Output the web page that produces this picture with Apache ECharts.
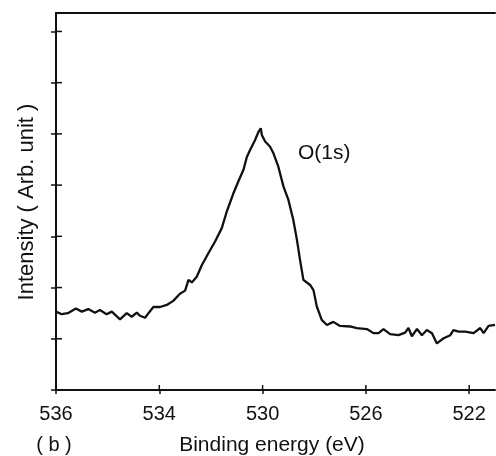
<!DOCTYPE html>
<html>
<head>
<meta charset="utf-8">
<script src="https://cdn.jsdelivr.net/npm/echarts@6/dist/echarts.min.js"></script>
<style>
	html, body { margin: 0; padding: 0; background: #fff; }
	#chart { width: 496px; height: 456px; }
</style>
</head>
<body>
<div id="chart"></div>
<script>
// binding energy (eV)
var energy = [538.00, 537.78, 537.54, 537.23, 537.00, 536.75, 536.49, 536.30, 536.04, 535.84,
	535.52, 535.26, 535.07, 534.87, 534.75, 534.55, 534.42, 534.23, 533.97, 533.71,
	533.46, 533.20, 533.00, 532.87, 532.74, 532.55, 532.35, 532.10, 531.84, 531.58,
	531.39, 531.13, 530.94, 530.74, 530.61, 530.48, 530.29, 530.16, 530.07, 530.03,
	529.90, 529.71, 529.58, 529.51, 529.39, 529.19, 529.00, 528.81, 528.67, 528.55,
	528.42, 528.16, 528.03, 527.90, 527.71, 527.51, 527.26, 527.00, 526.61, 526.35,
	525.96, 525.71, 525.51, 525.32, 525.06, 524.74, 524.48, 524.35, 524.22, 524.02,
	523.83, 523.64, 523.44, 523.25, 522.99, 522.73, 522.61, 522.41, 522.15, 521.83,
	521.57, 521.44, 521.25, 521.00];

// intensity (arb. unit, one tick = 1)
var intensity = [1.53, 1.48, 1.50, 1.59, 1.53, 1.58, 1.51, 1.56, 1.48, 1.53,
	1.38, 1.50, 1.43, 1.51, 1.45, 1.41, 1.50, 1.62, 1.62, 1.66,
	1.74, 1.88, 1.94, 2.15, 2.10, 2.21, 2.44, 2.67, 2.90, 3.16,
	3.48, 3.84, 4.07, 4.30, 4.55, 4.69, 4.88, 5.04, 5.11, 4.98,
	4.85, 4.75, 4.62, 4.65, 4.36, 3.97, 3.71, 3.32, 2.93, 2.54,
	2.15, 2.05, 1.95, 1.63, 1.37, 1.27, 1.33, 1.25, 1.24, 1.21,
	1.19, 1.11, 1.11, 1.19, 1.09, 1.07, 1.12, 1.21, 1.05, 1.19,
	1.07, 1.17, 1.11, 0.91, 1.01, 1.07, 1.17, 1.14, 1.14, 1.11,
	1.21, 1.11, 1.25, 1.27];

// tick positions and the labels printed under them (first one reads 536 in the original)
var xTickValues = [538, 534, 530, 526, 522];
var xTickLabels = ['536', '534', '530', '526', '522'];
var yTickValues = [0, 1, 2, 3, 4, 5, 6, 7];

var X_MIN = 521, X_MAX = 538;
var Y_MIN = 0, Y_MAX = 7.36;

var FONT = "'Liberation Sans', Arial, sans-serif";
var INK = '#111';

function getPoints(xs, ys) {
	var pts = new Array();
	for(var i = 0; i < xs.length; i++) pts[i] = [xs[i], ys[i]];
	return pts;
}

function xLabel(v) {
	for(var i = 0; i < xTickValues.length; i++) {
		if(Math.abs(xTickValues[i] - v) < 0.01) return xTickLabels[i];
	}
	return '';
}

// inner half of the crossing ticks: outer half comes from the axes themselves
function innerTicks(name, data, dx, dy) {
	return {
		name: name,
		type: 'custom',
		silent: true,
		clip: false,
		z: 5,
		data: data,
		renderItem: function(params, api) {
			var p = api.coord([api.value(0), api.value(1)]);
			return {
				type: 'line',
				shape: { x1: p[0], y1: p[1], x2: p[0] + dx, y2: p[1] + dy },
				style: { stroke: INK, lineWidth: 1.5 }
			};
		}
	};
}

function tickPoints(values, fixed, isX) {
	var pts = new Array();
	for(var i = 0; i < values.length; i++) pts[i] = isX ? [values[i], fixed] : [fixed, values[i]];
	return pts;
}

function initChart(el) {
	var mychart = echarts.init(el, null, { renderer: 'canvas' });
	var option = {
		animation: false,
		backgroundColor: '#fff',
		grid: { left: 56, right: 1, top: 13, bottom: 66 },
		xAxis: [{
			type: 'value',
			min: X_MIN,
			max: X_MAX,
			inverse: true,
			position: 'bottom',
			splitLine: { show: false },
			axisLine: { onZero: false, lineStyle: { color: INK, width: 2 } },
			axisTick: { show: true, inside: false, length: 4, customValues: xTickValues, lineStyle: { color: INK, width: 1.5 } },
			axisLabel: { customValues: xTickValues, formatter: xLabel, color: INK, fontFamily: FONT, fontSize: 20, margin: 14 }
		}, {
			type: 'value',
			min: X_MIN,
			max: X_MAX,
			inverse: true,
			position: 'top',
			splitLine: { show: false },
			axisLine: { onZero: false, lineStyle: { color: INK, width: 2 } },
			axisTick: { show: false },
			axisLabel: { show: false }
		}],
		yAxis: {
			type: 'value',
			min: Y_MIN,
			max: Y_MAX,
			position: 'left',
			splitLine: { show: false },
			axisLine: { show: true, onZero: false, lineStyle: { color: INK, width: 2 } },
			axisTick: { show: true, inside: false, length: 5, customValues: yTickValues, lineStyle: { color: INK, width: 1.5 } },
			axisLabel: { show: false }
		},
		graphic: [
			{ type: 'text', x: 298, y: 153, style: { text: 'O(1s)', font: '21px ' + FONT, fill: INK, align: 'left', verticalAlign: 'middle' } },
			{ type: 'text', x: 272, y: 445, style: { text: 'Binding energy (eV)', font: '21px ' + FONT, fill: INK, align: 'center', verticalAlign: 'middle' } },
			{ type: 'text', x: 54, y: 445, style: { text: '( b )', font: '20px ' + FONT, fill: INK, align: 'center', verticalAlign: 'middle' } },
			{ type: 'text', x: 27, y: 202, rotation: Math.PI / 2, style: { text: 'Intensity ( Arb. unit )', font: '22px ' + FONT, fill: INK, align: 'center', verticalAlign: 'middle' } }
		],
		series: [{
			name: 'O(1s)',
			type: 'line',
			data: getPoints(energy, intensity),
			showSymbol: false,
			smooth: false,
			lineStyle: { color: INK, width: 2.3 }
		},
		innerTicks('xTicksInner', tickPoints(xTickValues, Y_MIN, true), 0, -5),
		innerTicks('yTicksInner', tickPoints(yTickValues, X_MAX, false), 6, 0)
		]
	};
	mychart.setOption(option);
	return mychart;
}

initChart(document.getElementById('chart'));
</script>
</body>
</html>
